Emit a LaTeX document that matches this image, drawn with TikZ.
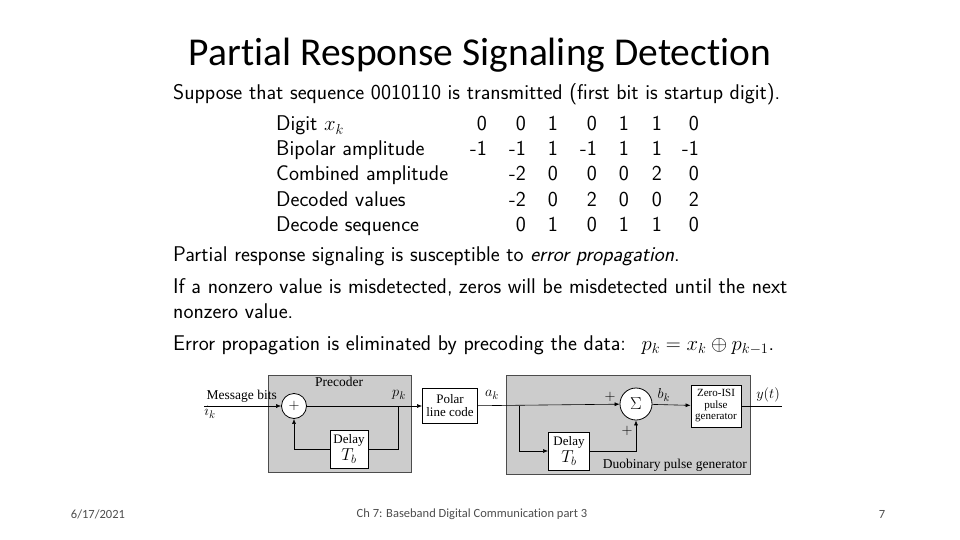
\documentclass[tikz,border=0pt]{standalone}
\usepackage{fontspec}
\usepackage{amsmath}
\newfontfamily\calib[Ligatures=NoCommon]{Carlito}
\newfontfamily\tms{Liberation Serif}
\usetikzlibrary{arrows.meta}
\begin{document}
\begin{tikzpicture}[x=1pt,y=-1pt,
  body/.style={anchor=base west,inner sep=0,font=\sffamily\fontsize{21.3}{24}\selectfont},
  num/.style={anchor=base east,inner sep=0,font=\sffamily\fontsize{21.3}{24}\selectfont},
  dg/.style={font=\tms\fontsize{13.5}{14}\selectfont,inner sep=1pt},
  gbox/.style={draw=black!70,fill=black!20,line width=0.6pt},
  wbox/.style={draw,fill=white,line width=0.9pt,align=center,font=\tms\fontsize{13}{13}\selectfont,inner sep=1pt},
  sig/.style={line width=0.6pt,-{Latex[length=5pt,width=4pt]}},
  ln/.style={line width=0.6pt}]
\useasboundingbox (0,0) rectangle (960,540);
\node[font=\calib\fontsize{39.5}{42}\selectfont,inner sep=0] (title) at (480,55) {Partial Response Signaling Detection};
\node[body] (l1) at (173,100) {Suppose that sequence 0010110 is transmitted (first bit is startup digit).};
\node[body] (r1) at (276,131) {Digit $x_k$};
\node[body] (r2) at (276,156) {Bipolar amplitude};
\node[body] (r3) at (276,181) {Combined amplitude};
\node[body] (r4) at (276,206) {Decoded values};
\node[body] (r5) at (276,231) {Decode sequence};
\foreach \v [count=\i] in {0,0,1,0,1,1,0}{
  \pgfmathsetmacro{\xx}{{487,526,558,597,629,662,699}[\i-1]}
  \node[num] (a\i) at (\xx,131) {\v};}
\foreach \v [count=\i] in {-1,-1,1,-1,1,1,-1}{
  \pgfmathsetmacro{\xx}{{487,526,558,597,629,662,699}[\i-1]}
  \node[num] (b\i) at (\xx,156) {\v};}
\foreach \v [count=\i from 2] in {-2,0,0,0,2,0}{
  \pgfmathsetmacro{\xx}{{487,526,558,597,629,662,699}[\i-1]}
  \node[num] (c\i) at (\xx,181) {\v};}
\foreach \v [count=\i from 2] in {-2,0,2,0,0,2}{
  \pgfmathsetmacro{\xx}{{487,526,558,597,629,662,699}[\i-1]}
  \node[num] (d\i) at (\xx,206) {\v};}
\foreach \v [count=\i from 2] in {0,1,0,1,1,0}{
  \pgfmathsetmacro{\xx}{{487,526,558,597,629,662,699}[\i-1]}
  \node[num] (e\i) at (\xx,231) {\v};}
\node[body] (l2) at (173,261) {Partial response signaling is susceptible to \textit{error propagation}.};
\node[body] (l3) at (173,293) {If a nonzero value is misdetected, zeros will be misdetected until the next};
\node[body] (l4) at (173,318) {nonzero value.};
\node[body] (l5) at (173,350) {Error propagation is eliminated by precoding the data: \ $p_k = x_k \oplus p_{k-1}$.};
% diagram
\node[gbox,minimum width=143,minimum height=97,anchor=north west,inner sep=0] (pre) at (268,375) {};
\node[dg,anchor=north] (prel) at (339,376) {Precoder};
\node[gbox,minimum width=244,minimum height=99,anchor=north west,inner sep=0] (duo) at (506,375) {};
\node[dg,anchor=south east] (duol) at (748,473) {Duobinary pulse generator};
\node[draw,circle,fill=white,line width=0.8pt,minimum size=25,inner sep=0,font=\Large] (add) at (294,406) {$+$};
\node[wbox,minimum width=38,minimum height=38] (d1) at (349,449) {Delay\\[1pt]{\fontsize{17}{17}\selectfont$T_b$}};
\node[wbox,minimum width=55,minimum height=35] (pol) at (450,406) {Polar\\line code};
\node[draw,circle,fill=white,line width=0.8pt,minimum size=32,inner sep=0,font=\LARGE] (sum) at (636,404) {$\Sigma$};
\node[wbox,minimum width=50,minimum height=42,font=\tms\fontsize{11}{11.5}\selectfont] (zisi) at (716,406) {Zero-ISI\\pulse\\generator};
\node[wbox,minimum width=41,minimum height=38] (d2) at (569,451) {Delay\\[1pt]{\fontsize{17}{17}\selectfont$T_b$}};
\node[dg,anchor=base east] (msg) at (278,399) {Message bits};
\node[dg,font=\tms\fontsize{15}{15}\selectfont] (ik) at (210,412) {$i_k$};
\coordinate (in) at (204,406);
\coordinate (pk) at (398,406);
\coordinate (br) at (519,406);
\coordinate (out) at (782,406);
\draw[sig] (in) -- (add);
\draw[sig] (add) -- (pol);
\draw[ln] (pk) |- (d1.east);
\draw[sig] (d1.west) -| (add.south);
\node[dg,font=\tms\fontsize{15}{15}\selectfont] (pkl) at (399,395) {$p_k$};
\draw[sig] (pol) -- (sum);
\draw[sig] (br) |- (d2.west);
\draw[sig] (d2.east) -| (sum.south);
\draw[sig] (sum) -- (zisi);
\draw[ln] (zisi) -- (out);
\node[dg,font=\tms\fontsize{15}{15}\selectfont] (akl) at (492,395) {$a_k$};
\node[dg,font=\tms\fontsize{15}{15}\selectfont] (bkl) at (664,395) {$b_k$};
\node[dg,font=\tms\fontsize{14}{14}\selectfont] (ytl) at (768,395) {$y(t)$};
\node[dg] (p1) at (610,397) {$+$};
\node[dg] (p2) at (627,431) {$+$};
\node[font=\calib\fontsize{12.5}{13}\selectfont,text=black!70] (f1) at (98,514) {6/17/2021};
\node[font=\calib\fontsize{12.5}{13}\selectfont,text=black!70] (f2) at (472,514) {Ch 7: Baseband Digital Communication part 3};
\node[font=\calib\fontsize{12.5}{13}\selectfont,text=black!70] (f3) at (882,514) {7};
\end{tikzpicture}
\end{document}
